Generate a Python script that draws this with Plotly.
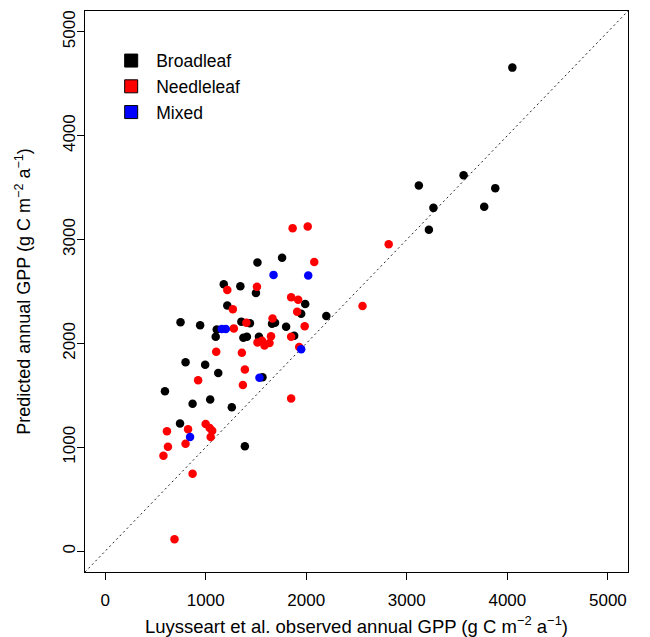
import plotly.graph_objects as go

# ---- data (observed, predicted) ----
broad_obs = [4050, 3565, 3120, 3880, 3265, 3770, 3220, 1760, 1515, 1180, 1345, 1500,
             1990, 1215, 1950, 2200, 750, 945, 1355, 1440, 1660, 1690, 1110, 1100,
             1800, 1880, 1375, 1410, 1530, 800, 995, 1125, 1565, 595, 870, 1045,
             1260, 745, 1390]
broad_pred = [4655, 3620, 3520, 3495, 3305, 3315, 3095, 2825, 2780, 2570, 2550, 2485,
              2380, 2365, 2285, 2265, 2205, 2175, 2210, 2195, 2190, 2200, 2135, 2065,
              2160, 2075, 2055, 2065, 2065, 1820, 1795, 1715, 1675, 1540, 1420, 1460,
              1385, 1230, 1010]

needle_obs = [2820, 1865, 2015, 2080, 1215, 1510, 1270, 1850, 1920, 1910, 2560, 1665,
              1405, 1280, 1985, 1650, 1850, 1515, 1560, 1585, 1635, 1930, 1105, 1360,
              1390, 925, 1370, 1850, 825, 1000, 1040, 1065, 615, 1050, 800, 625, 580,
              870, 690]
needle_pred = [2955, 3110, 3125, 2785, 2515, 2545, 2330, 2445, 2420, 2305, 2360, 2240,
               2200, 2145, 2165, 2070, 2065, 2010, 2025, 1980, 2005, 1965, 1920, 1910,
               1750, 1645, 1600, 1470, 1175, 1225, 1185, 1160, 1155, 1100, 1035, 1005,
               920, 745, 115]

mixed_obs = [1675, 2020, 1160, 1200, 1950, 1535, 845]
mixed_pred = [2660, 2655, 2140, 2140, 1945, 1670, 1100]

group_names = ["Broadleaf", "Needleleaf", "Mixed"]
group_colors = ["#000000", "#ff0000", "#0000ff"]

tick_vals = [0, 1000, 2000, 3000, 4000, 5000]
axis_range = [-200, 5200]

x_title = ("\u00a0\u00a0\u00a0Luysseart et al. observed annual GPP "
           "(g C m<sup>\u22122</sup> a<sup>\u22121</sup>)")
y_title = "Predicted annual GPP (g C m<sup>\u22122</sup> a<sup>\u22121</sup>)"

FONT = "Liberation Sans, Arial, Helvetica, sans-serif"

fig = go.Figure()

# 1:1 reference line across the full axis range
fig.add_shape(type="line", xref="x", yref="y",
              x0=axis_range[0], y0=axis_range[0], x1=axis_range[1], y1=axis_range[1],
              line=dict(color="#222222", width=1, dash="2px,3px"), layer="below")

for xs, ys, col in [(broad_obs, broad_pred, group_colors[0]),
                    (needle_obs, needle_pred, group_colors[1]),
                    (mixed_obs, mixed_pred, group_colors[2])]:
    fig.add_trace(go.Scatter(x=xs, y=ys, mode="markers", showlegend=False,
                             marker=dict(color=col, size=8.5, line=dict(width=0))))

# legend entries (filled squares with black outline)
for name, col in zip(group_names, group_colors):
    fig.add_trace(go.Scatter(x=[None], y=[None], mode="markers", name=name,
                             marker=dict(symbol="square", color=col, size=13,
                                         line=dict(color="#000000", width=1))))

axis_common = dict(range=axis_range, tickvals=tick_vals, ticks="outside", ticklen=7,
                   tickwidth=1, tickcolor="#000000", showline=True, linecolor="#000000",
                   linewidth=1, mirror=True, showgrid=False, zeroline=False,
                   automargin=False,
                   tickfont=dict(family=FONT, size=17, color="#000000"))

fig.update_xaxes(**axis_common, ticklabelstandoff=6,
                 title=dict(text=x_title, standoff=10,
                            font=dict(family=FONT, size=18.5, color="#000000")))
fig.update_yaxes(**axis_common, tickangle=-90, ticklabelstandoff=-5,
                 title=dict(text=y_title, standoff=24,
                            font=dict(family=FONT, size=18, color="#000000")))

# the page body adds an 8px offset, so margins are shifted to compensate
fig.update_layout(
    template="none",
    width=650, height=637,
    margin=dict(l=77, r=30, t=3, b=73, autoexpand=False),
    plot_bgcolor="#ffffff", paper_bgcolor="#ffffff",
    font=dict(family=FONT, size=17, color="#000000"),
    showlegend=True,
    legend=dict(x=0.039, y=0.9435, xanchor="left", yanchor="top",
                bgcolor="rgba(0,0,0,0)", borderwidth=0, itemwidth=40,
                font=dict(family=FONT, size=17.5, color="#000000")),
)

fig.write_html("out.html")
